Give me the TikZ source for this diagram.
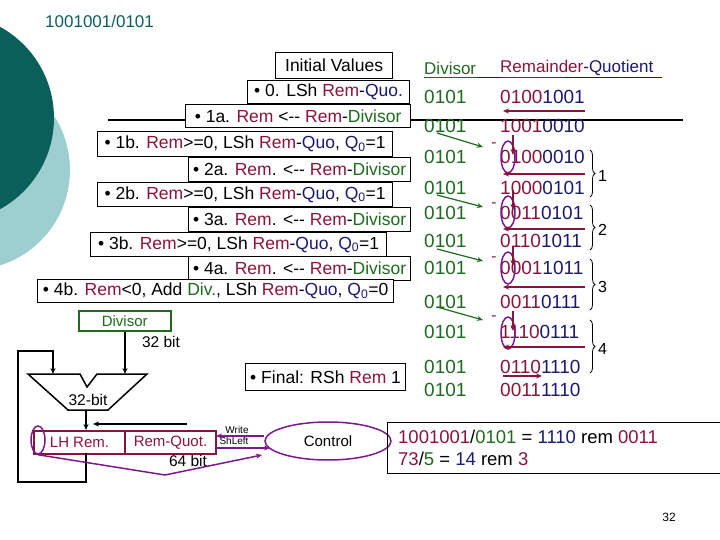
\documentclass[tikz,border=0pt]{standalone}
\usepackage{fontspec}
\setmainfont{Liberation Sans}
\usetikzlibrary{arrows.meta,decorations.pathreplacing,shapes.geometric}
\definecolor{rr}{HTML}{8B1538}
\definecolor{nv}{HTML}{1A1A70}
\definecolor{gg}{HTML}{1E6B1E}
\definecolor{tealD}{HTML}{0B5F5A}
\definecolor{tealL}{HTML}{9ECFD0}
\definecolor{pp}{HTML}{7B1A8C}
\newcommand{\lar}{<{-}{-}}
\newcommand{\qz}{\textcolor{nv}{Q\textsubscript{0}}}
\begin{document}
\begin{tikzpicture}[x=1pt,y=-1pt,
  box/.style={draw,line width=1.2pt,fill=white,inner sep=0pt},
  st/.style={font=\fontsize{17.5}{20}\selectfont,inner sep=0pt},
  txt/.style={font=\fontsize{19}{22}\selectfont,anchor=west,inner sep=0pt},
  sm/.style={font=\fontsize{15.5}{18}\selectfont,inner sep=0pt},
  arr/.style={-{Stealth[length=6pt,width=5pt]},line width=1.2pt},
  garr/.style={gg,-{Stealth[length=6pt,width=5pt]},line width=1.2pt},
  rarr/.style={rr,-{Stealth[length=6pt,width=5pt]},line width=1.5pt},
  parr/.style={pp,-{Stealth[length=6pt,width=5pt]},line width=1.5pt},
  pell/.style={draw=pp,line width=1.5pt}]
\useasboundingbox (0,0) rectangle (720,540);
\fill[tealL] (-30,170) circle (100);
\fill[tealD] (-50,118) circle (104);
\node[tealD,anchor=west,font=\fontsize{17}{20}\selectfont,inner sep=0pt] (title) at (45,21) {1001001/0101};
% line through 1a
\draw[line width=1.2pt] (108,120) -- (683,120);
% step boxes
\def\bx#1#2#3#4#5{\node[box,minimum width=#3-#2,minimum height=#5-#4,anchor=north west] (#1) at (#2,#4) {};}
\bx{iv}{275}{392}{52}{78}
\node[st] at (iv.center) {Initial Values};
\bx{s0}{247}{409}{80}{103}
\node[st] at (s0.center) {• 0. LSh \textcolor{rr}{Rem}-\textcolor{nv}{Quo.}};
\bx{s1a}{185}{410}{104}{127}
\node[st] at (s1a.center) {• 1a. \textcolor{rr}{Rem} \lar{} \textcolor{rr}{Rem}-\textcolor{gg}{Divisor}};
\bx{s1b}{97}{392}{131}{156}
\node[st] at (s1b.center) {• 1b. \textcolor{rr}{Rem}>=0, LSh \textcolor{rr}{Rem}-\textcolor{nv}{Quo}, \qz=1};
\bx{s2a}{188}{410}{157}{181}
\node[st] at (s2a.center) {• 2a. \textcolor{rr}{Rem}. \lar{} \textcolor{rr}{Rem}-\textcolor{gg}{Divisor}};
\bx{s2b}{97}{392}{182}{206}
\node[st] at (s2b.center) {• 2b. \textcolor{rr}{Rem}>=0, LSh \textcolor{rr}{Rem}-\textcolor{nv}{Quo}, \qz=1};
\bx{s3a}{188}{410}{207}{231}
\node[st] at (s3a.center) {• 3a. \textcolor{rr}{Rem}. \lar{} \textcolor{rr}{Rem}-\textcolor{gg}{Divisor}};
\bx{s3b}{90}{386}{232}{256}
\node[st] at (s3b.center) {• 3b. \textcolor{rr}{Rem}>=0, LSh \textcolor{rr}{Rem}-\textcolor{nv}{Quo}, \qz=1};
\bx{s4a}{188}{410}{256}{280}
\node[st] at (s4a.center) {• 4a. \textcolor{rr}{Rem}. \lar{} \textcolor{rr}{Rem}-\textcolor{gg}{Divisor}};
\bx{s4b}{37}{393}{279}{302}
\node[st] at (s4b.center) {• 4b. \textcolor{rr}{Rem}<0, Add \textcolor{gg}{Div.}, LSh \textcolor{rr}{Rem}-\textcolor{nv}{Quo}, \qz=0};
\bx{fin}{245}{405}{363}{390}
\node[st] at (fin.center) {• Final: RSh \textcolor{rr}{Rem} 1};
% hardware
\node[draw=gg,line width=1.5pt,minimum width=92,minimum height=20,anchor=north west,inner sep=0pt,font=\fontsize{15}{17}\selectfont,gg] (div) at (78,310) {Divisor};
\node[sm] (b32) at (161,342) {32 bit};
\draw[line width=1.5pt,fill=white] (28,374) -- (80,374) -- (87,387) -- (97,374) -- (147,374) -- (108,410) -- (68,410) -- cycle;
\node[sm] (alu) at (88,400) {32-bit};
\coordinate (aluL) at (53,374);
\coordinate (aluR) at (125,374);
\coordinate (aluB) at (86,410);
\draw[arr] (div.south -| aluR) -- (aluR);
\node[draw=rr,line width=2pt,minimum width=91,minimum height=23,anchor=north west,inner sep=0pt,font=\fontsize{15}{17}\selectfont,rr] (lh) at (33,430) {LH Rem.};
\node[draw=rr,line width=2pt,minimum width=91,minimum height=23,anchor=north west,inner sep=0pt,font=\fontsize{15}{17}\selectfont,rr] (rq) at (124,430) {Rem-Quot.};
\node[sm] (b64) at (188,461) {64 bit};
\draw[arr] (aluB) -- (aluB |- lh.north);
\coordinate (sh) at (187,424);
\draw[arr] (sh) -- (93,424);
\draw[line width=1.5pt,-{Stealth[length=6pt,width=5pt]}] (86,453) -- (86,482) -- (18,482) -- (18,351) -- (53,351) -- (aluL);
\node[pell,ellipse,minimum width=126,minimum height=38,inner sep=0pt,font=\fontsize{15}{17}\selectfont] (ctl) at (328,441) {Control};
\node[font=\fontsize{10}{11}\selectfont,inner sep=0pt] (wr) at (237,430) {Write};
\node[font=\fontsize{10}{11}\selectfont,inner sep=0pt] (sl) at (234,441) {ShLeft};
\draw[parr] (ctl.west |- 0,436) -- (216,436);
\draw[parr] (216,448) -- (270,448);
\node[pell,ellipse,minimum width=14,minimum height=28,inner sep=0pt] (q0) at (38,440) {};
\draw[parr] (q0.south) -- (165,475) -- (262,455);
% right table
\node[gg,anchor=west,inner sep=0pt,font=\fontsize{17}{20}\selectfont] (hd) at (424,68) {Divisor};
\node[rr,anchor=west,inner sep=0pt,font=\fontsize{17}{20}\selectfont] (hr) at (500,68) {Remainder\textcolor{nv}{-Quotient}};
\draw[gg,line width=1pt] (424,78) -- (478,78);
\draw[nv,line width=1pt] (478,78) -- (500,78);
\draw[rr,line width=1pt] (500,78) -- (565,78);
\draw[nv,line width=1pt] (565,78) -- (662,78);
\def\row#1#2#3#4{\node[txt,gg] (d#1) at (424,#2) {0101};\node[txt,rr] (r#1) at (500,#2) {#3\textcolor{nv}{#4}};}
\row{1}{97}{0100}{1001}
\row{2}{126}{1001}{0010}
\row{3}{157}{0100}{0010}
\row{4}{188}{1000}{0101}
\row{5}{213}{0011}{0101}
\row{6}{241}{0110}{1011}
\row{7}{268}{0001}{1011}
\row{8}{302}{0011}{0111}
\row{9}{332}{1110}{0111}
\row{10}{367}{0110}{1110}
\row{11}{390}{0011}{1110}
\foreach \a/\b/\c in {133/147/145,195/207/205,249/261/259,307/320/318}{
  \draw[garr] (437,\a) -- (483,\b);
  \node[sm,rr] at (494,\c) {-};
}
\foreach \y/\t in {157/135,212/190,268/246,333/311}{
  \draw[pell] (508,\y) ellipse (7 and 16);
  \draw[rarr] (513,\t) -- (513,\t+20);
}
\foreach \y in {111,174,229,287,347}{ \draw[rarr] (585,\y) -- (503,\y); }
\draw[rarr] (503,376) -- (542,376);
\foreach \a/\b/\n in {150/197/1,205/250/2,259/310/3,320/373/4}{
  \draw[decorate,decoration={brace,amplitude=5pt},line width=0.8pt] (590,\a) -- (590,\b);
  \node[font=\fontsize{16}{18}\selectfont,inner sep=0pt,anchor=west] at (598,{(\a+\b)/2+2}) {\n};
}
\node[draw,line width=1.2pt,minimum width=340,minimum height=51,anchor=north west,inner sep=0pt] (res) at (387,422) {};
\node[anchor=west,inner sep=0pt,font=\fontsize{18.5}{21}\selectfont] (l1) at (398,437) {\textcolor{rr}{1001001}/\textcolor{gg}{0101} = \textcolor{nv}{1110} rem \textcolor{rr}{0011}};
\node[anchor=west,inner sep=0pt,font=\fontsize{18.5}{21}\selectfont] (l2) at (398,459) {\textcolor{rr}{73}/\textcolor{gg}{5} = \textcolor{nv}{14} rem \textcolor{rr}{3}};
\node[font=\fontsize{12}{14}\selectfont,inner sep=0pt] (pg) at (669,517) {32};
\end{tikzpicture}
\end{document}
